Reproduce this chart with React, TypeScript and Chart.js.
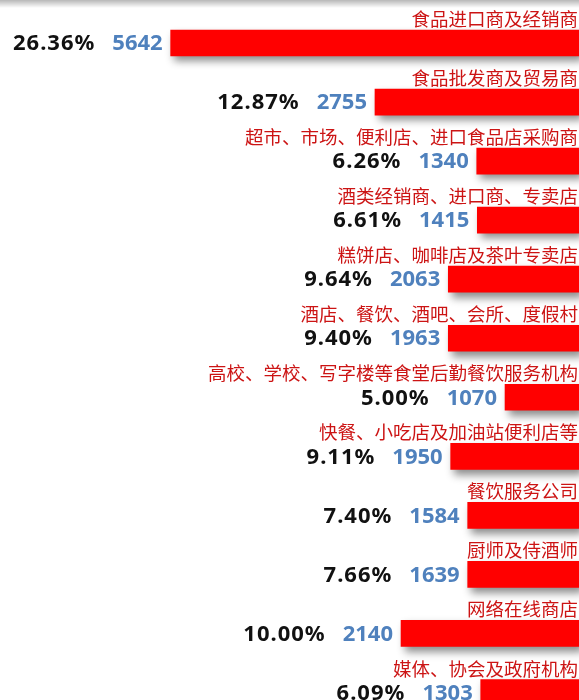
import React, { useEffect, useRef } from "react";
import { Chart, registerables } from "chart.js";

Chart.register(...registerables);

const categories = [
  "食品进口商及经销商",
  "食品批发商及贸易商",
  "超市、市场、便利店、进口食品店采购商",
  "酒类经销商、进口商、专卖店",
  "糕饼店、咖啡店及茶叶专卖店",
  "酒店、餐饮、酒吧、会所、度假村",
  "高校、学校、写字楼等食堂后勤餐饮服务机构",
  "快餐、小吃店及加油站便利店等",
  "餐饮服务公司",
  "厨师及侍酒师",
  "网络在线商店",
  "媒体、协会及政府机构",
];
const counts = [5642, 2755, 1340, 1415, 2063, 1963, 1070, 1950, 1584, 1639, 2140, 1303];
const percents = ["26.36%", "12.87%", "6.26%", "6.61%", "9.64%", "9.40%", "5.00%", "9.11%", "7.40%", "7.66%", "10.00%", "6.09%"];
// bar lengths as drawn in the picture (same units as counts)
const barLengths = [5642, 2819, 1413, 1405, 1806, 1806, 1022, 1773, 1538, 1538, 2459, 1358];
const axisMax = 8000;

const W = 579;
const H = 722;

export default function App() {
  const ref = useRef<HTMLCanvasElement | null>(null);
  useEffect(() => {
    const canvas = ref.current;
    if (!canvas) return;
    const shadowPlugin = {
      id: "barShadow",
      beforeDraw(chart: any) {
        const ctx = chart.ctx;
        const g = ctx.createLinearGradient(0, 0, 0, 8);
        g.addColorStop(0, "rgba(0,0,0,0.28)");
        g.addColorStop(1, "rgba(0,0,0,0)");
        ctx.save();
        ctx.fillStyle = g;
        ctx.fillRect(0, 0, W, 8);
        ctx.restore();
      },
      beforeDatasetsDraw(chart: any) {
        const ctx = chart.ctx;
        ctx.save();
        ctx.shadowColor = "rgba(0,0,0,0.45)";
        ctx.shadowBlur = 8;
        ctx.shadowOffsetX = 4;
        ctx.shadowOffsetY = 5;
      },
      afterDatasetsDraw(chart: any) {
        const ctx = chart.ctx;
        ctx.restore();
        const meta = chart.getDatasetMeta(0);
        const right = chart.chartArea.right;
        ctx.save();
        meta.data.forEach((bar: any, i: number) => {
          const top = bar.y - bar.height / 2;
          ctx.letterSpacing = "0px";
          ctx.font = '18.5px "Noto Sans CJK SC", sans-serif';
          ctx.fillStyle = "#cc1414";
          ctx.textAlign = "right";
          ctx.textBaseline = "middle";
          ctx.fillText(categories[i], right - 1, top - 11);

          ctx.font = 'bold 22px "Noto Sans", sans-serif';
          ctx.fillStyle = "#4f81bd";
          const vx = bar.x - 8;
          ctx.fillText(String(counts[i]), vx, bar.y + 1);
          const vw = ctx.measureText(String(counts[i])).width;
          ctx.fillStyle = "#111111";
          ctx.letterSpacing = "1px";
          ctx.fillText(percents[i], vx - vw - 17, bar.y + 1);
        });
        ctx.restore();
      },
    };
    const chart = new Chart(canvas, {
      type: "bar",
      data: {
        labels: categories,
        datasets: [
          {
            data: barLengths,
            backgroundColor: "#ff0000",
            borderWidth: 0,
            barThickness: 26,
          },
        ],
      },
      options: {
        indexAxis: "y",
        animation: false,
        responsive: false,
        devicePixelRatio: 1,
        layout: { padding: { top: 13.5, bottom: 0, left: 0, right: 0 } },
        scales: {
          x: { display: false, reverse: true, min: 0, max: axisMax },
          y: { display: false, offset: true },
        },
        plugins: {
          legend: { display: false },
          tooltip: { enabled: false },
        },
      },
      plugins: [shadowPlugin],
    });
    return () => chart.destroy();
  }, []);
  return (
    <div style={{ position: "fixed", left: 0, top: 0, width: W, height: H, background: "#fff" }}>
      <canvas ref={ref} width={W} height={H} style={{ display: "block", width: W, height: H }} />
    </div>
  );
}
